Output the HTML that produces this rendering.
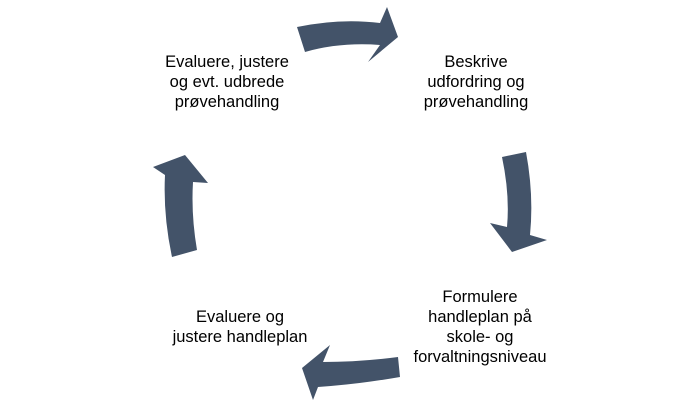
<!DOCTYPE html>
<html><head><style>body{margin:0;background:#fff}svg{display:block}</style></head>
<body>
<svg width="700" height="408" viewBox="0 0 700 408" xmlns="http://www.w3.org/2000/svg">
<g fill="#435369">
<path d="M297,27 Q340,18 380,23 L387,7 L398,37 L368,62 L380,45 Q340,42 305,52 Z"/>
<path d="M502,157 L526,152 Q534,195 530,235 L547,240 L512,252 L490,223 L507,227 Q510,195 502,157 Z"/>
<path d="M398,357 L400,377 Q360,384 318,387 L313,400 L302,368 L330,345 L323,362 Q360,362 398,357 Z"/>
<path d="M172,257 L197,250 Q191,215 193,182 L208,183 L185,155 L153,167 L165,175 Q163,215 172,257 Z"/>
</g>
<g font-family="'Liberation Sans', sans-serif" font-size="16.5" fill="#000" text-anchor="middle">
<text x="227" y="67">Evaluere, justere</text>
<text x="227" y="87">og evt. udbrede</text>
<text x="227" y="107">prøvehandling</text>
<text x="476" y="67">Beskrive</text>
<text x="476" y="87">udfordring og</text>
<text x="476" y="107">prøvehandling</text>
<text x="480" y="302">Formulere</text>
<text x="480" y="322">handleplan på</text>
<text x="480" y="342">skole- og</text>
<text x="480" y="362">forvaltningsniveau</text>
<text x="240" y="322">Evaluere og</text>
<text x="240" y="342">justere handleplan</text>
</g>
</svg>
</body></html>
